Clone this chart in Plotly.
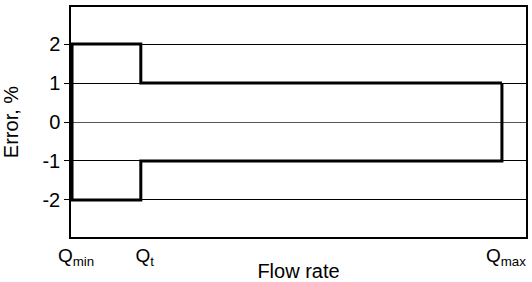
import plotly.graph_objects as go

# Flow points (relative positions) and error limits
flow_labels = ["Q<sub>min</sub>", "Q<sub>t</sub>", "Q<sub>max</sub>"]
flow_pos = [0, 1, 6.25]
upper_limits = [2, 1]   # Qmin..Qt, Qt..Qmax
lower_limits = [-2, -1]
y_ticks = [-2, -1, 0, 1, 2]

qmin, qt, qmax = flow_pos
xs = [qmax, qt, qt, qmin, qmin, qt, qt, qmax, qmax]
ys = [upper_limits[1], upper_limits[1], upper_limits[0], upper_limits[0],
      lower_limits[0], lower_limits[0], lower_limits[1], lower_limits[1], upper_limits[1]]

fig = go.Figure()
fig.add_trace(go.Scatter(x=xs, y=ys, mode="lines",
                         line=dict(color="black", width=3), showlegend=False,
                         hoverinfo="skip"))

font = dict(family="Liberation Sans, Arial, sans-serif", color="black")
fig.update_layout(
    width=532, height=282,
    margin=dict(l=71, r=6, t=7, b=45),
    paper_bgcolor="white", plot_bgcolor="white",
    font=dict(size=19, **font),
    xaxis=dict(range=[-0.015, 6.6], tickmode="array", tickvals=flow_pos,
               ticktext=flow_labels, showgrid=False, zeroline=False,
               showline=True, linecolor="black", linewidth=1.5, mirror=True,
               ticks="", tickfont=dict(size=19), automargin=False,
               ticklabelshift=4,
               title=dict(text="Flow rate", standoff=0, font=dict(size=20))),
    yaxis=dict(range=[-2.95, 2.95], tickmode="array", tickvals=y_ticks,
               ticktext=[str(v) for v in y_ticks],
               showgrid=True, gridcolor="black", gridwidth=1,
               zeroline=True, zerolinecolor="#555", zerolinewidth=1,
               showline=True, linecolor="black", linewidth=1.5, mirror=True,
               ticks="outside", ticklen=5, tickcolor="black",
               tickfont=dict(size=20), automargin=False,
               title=dict(text="Error, %", standoff=18, font=dict(size=20))),
)
fig.write_html("out.html", config={"displayModeBar": False},
               post_script="document.body.style.margin='0';document.body.style.overflow='hidden';")
